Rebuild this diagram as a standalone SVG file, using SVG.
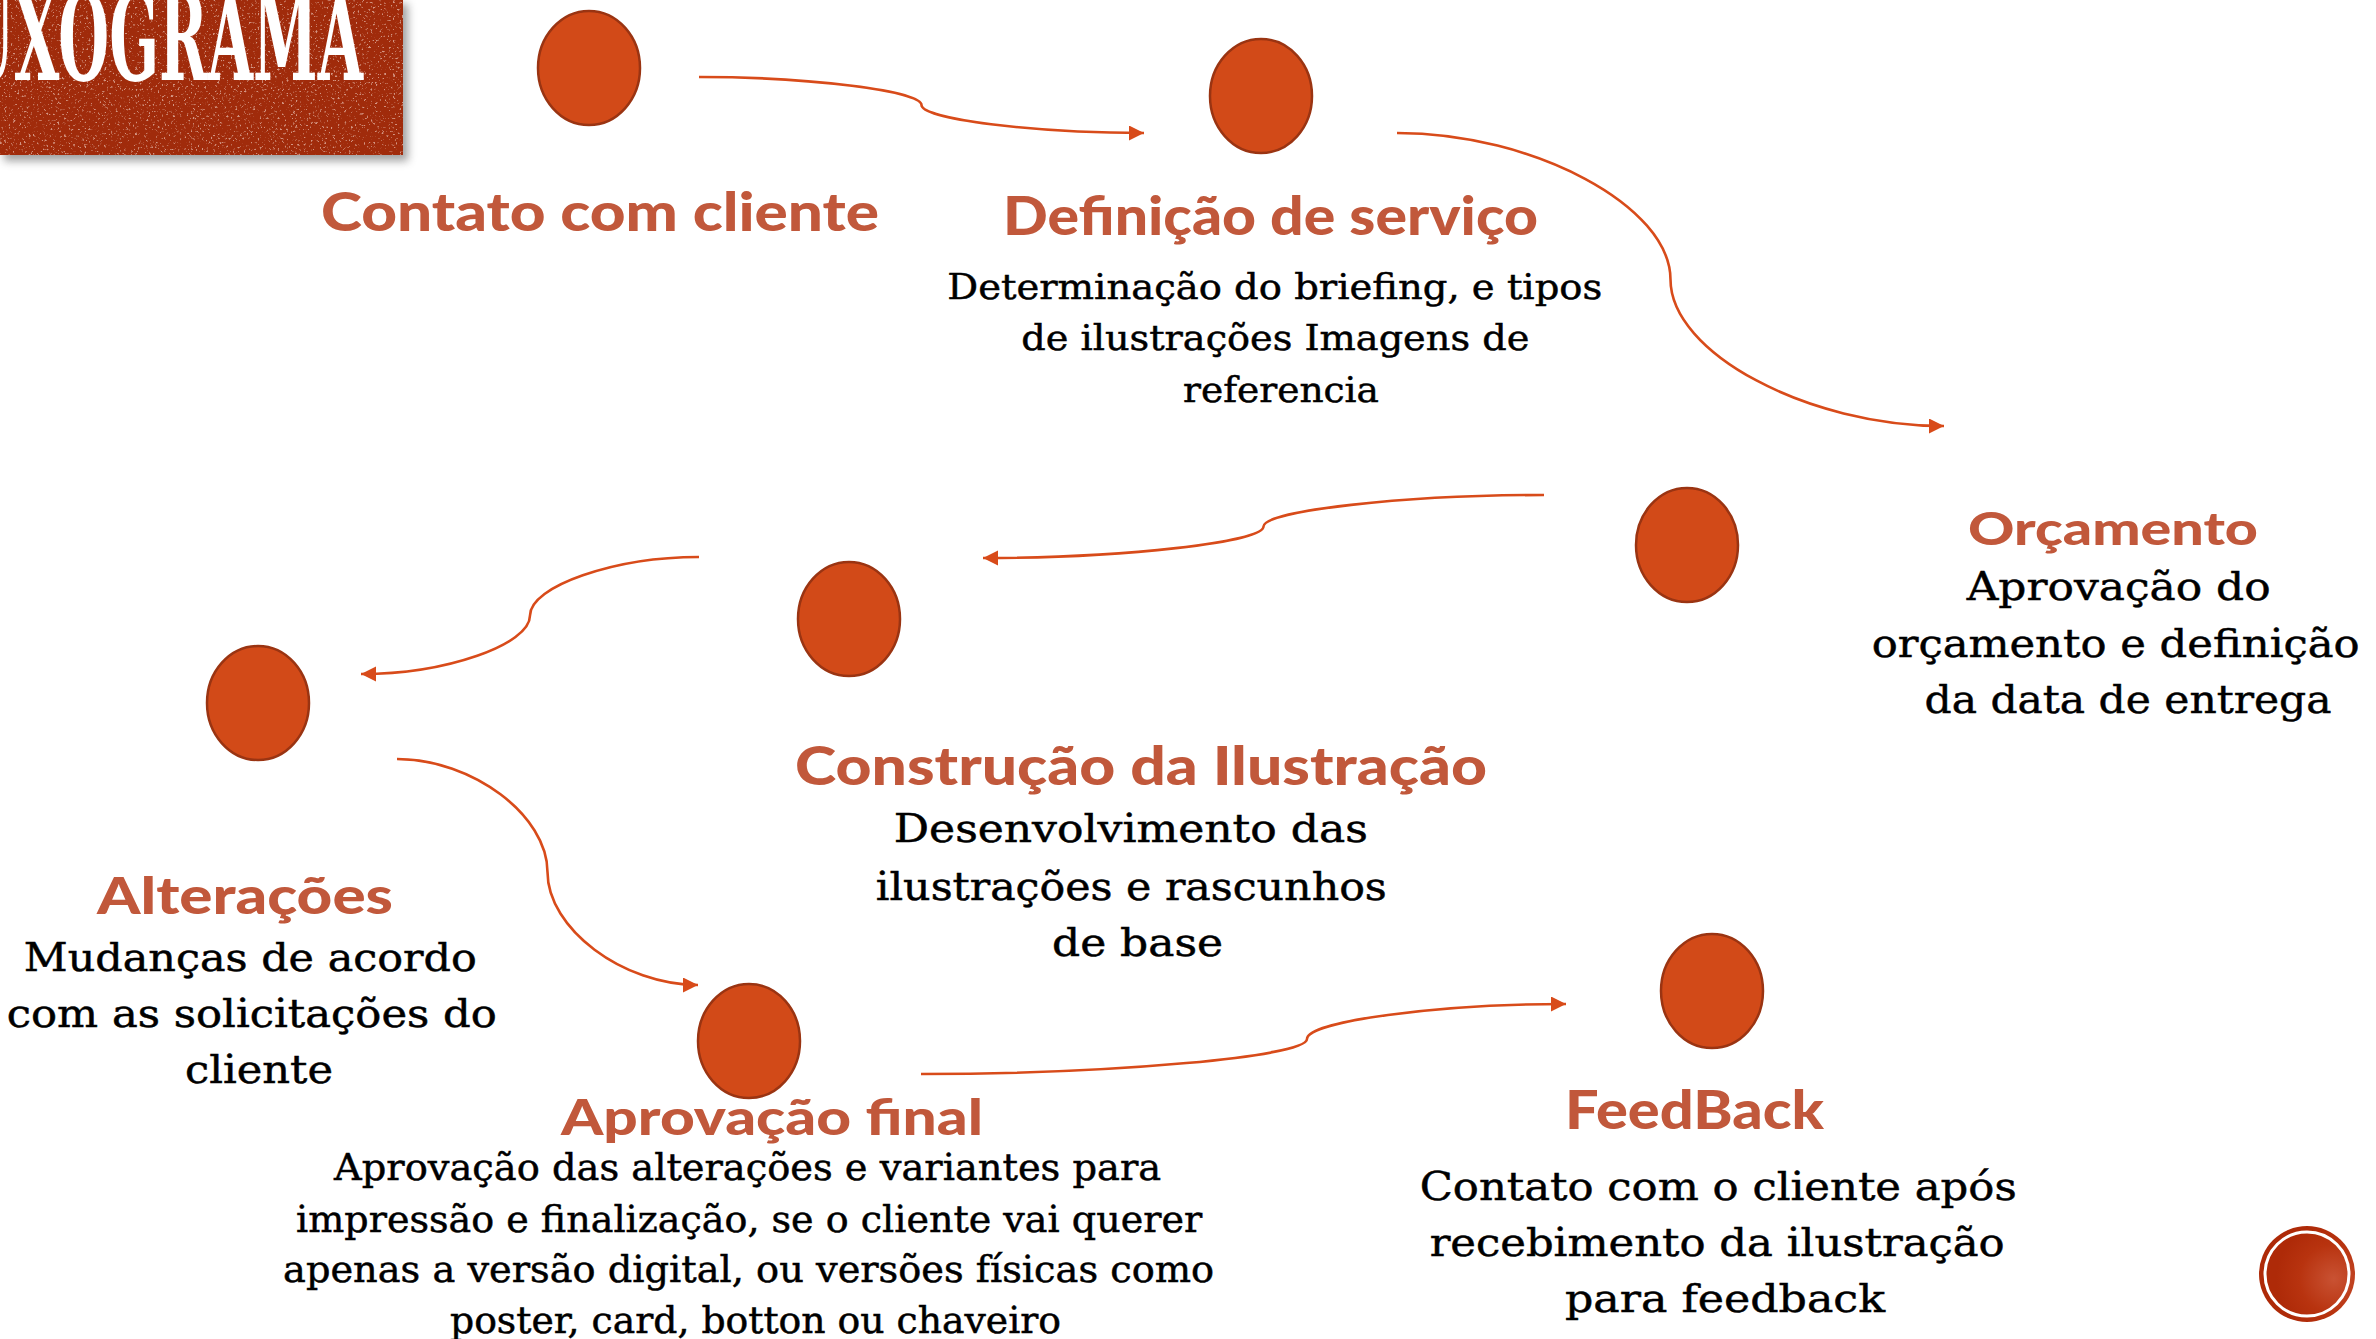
<svg xmlns="http://www.w3.org/2000/svg" width="2376" height="1339" viewBox="0 0 2376 1339">
<defs>
<style>
.dot{fill:#D24A18;stroke:#9A3412;stroke-width:2.5}
.head{font-family:Lato,"Open Sans","Noto Sans",sans-serif;font-weight:900;fill:#C1583B;text-anchor:middle}
.body{font-family:"DejaVu Serif","Liberation Serif",serif;fill:#000;stroke:#000;stroke-width:0.5;text-anchor:middle}
.conn{fill:none;stroke:#D84B1A;stroke-width:2.6}
</style>
<marker id="arrow" markerUnits="userSpaceOnUse" markerWidth="16" markerHeight="16" refX="15" refY="7.5" orient="auto">
<path d="M0,0 L15,7.5 L0,15 z" fill="#D84B1A"/>
</marker>
<filter id="shadow" x="-10%" y="-20%" width="130%" height="150%">
<feGaussianBlur stdDeviation="4"/>
</filter>
<filter id="speckle" x="0" y="0" width="1" height="1">
<feTurbulence type="fractalNoise" baseFrequency="0.45" numOctaves="2" seed="7" result="n"/>
<feColorMatrix in="n" type="matrix" values="0 0 0 0 1  0 0 0 0 0.86  0 0 0 0 0.8  7 0 0 0 -4.3"/>
</filter>
<radialGradient id="badge" cx="0.78" cy="0.55" r="0.6">
<stop offset="0" stop-color="#C95233"/>
<stop offset="0.6" stop-color="#B8330F"/>
<stop offset="1" stop-color="#AE2A08"/>
</radialGradient>
<clipPath id="titleclip"><rect x="0" y="0" width="403" height="155"/></clipPath>
</defs>

<g id="title">
<rect x="4" y="4" width="404" height="157" fill="#555" opacity="0.55" filter="url(#shadow)"/>
<rect x="0" y="0" width="403" height="155" fill="#A02B0B"/>
<rect x="0" y="0" width="403" height="155" filter="url(#speckle)" opacity="0.55"/>
<g clip-path="url(#titleclip)">
<text x="-37" y="80" font-family="'DejaVu Serif','Liberation Serif',serif" font-weight="700" font-size="122" fill="#FFFFFF" textLength="400" lengthAdjust="spacingAndGlyphs">UXOGRAMA</text>
</g>
</g>

<g id="connectors">
<path class="conn" marker-end="url(#arrow)" d="M699,77 C810,77 921.5,91 921.5,105 C921.5,119 1033,133 1144,133"/>
<path class="conn" marker-end="url(#arrow)" d="M1397,133 C1533.75,133 1670.5,206.25 1670.5,279.5 C1670.5,352.75 1807.25,426 1944,426"/>
<path class="conn" marker-end="url(#arrow)" d="M1544,495 C1403.75,495 1263.5,510.75 1263.5,526.5 C1263.5,542.25 1123.25,558 983,558"/>
<path class="conn" marker-end="url(#arrow)" d="M699,557 C614.5,557 530,586.25 530,615.5 C530,644.75 445.5,674 361,674"/>
<path class="conn" marker-end="url(#arrow)" d="M397,759 C472.25,759 547.5,815.5 547.5,872 C547.5,928.5 622.75,985 698,985"/>
<path class="conn" marker-end="url(#arrow)" d="M921,1074 C1114,1074 1307,1056.5 1307,1039 C1307,1021.5 1436.5,1004 1566,1004"/>
</g>

<g id="node-contato">
<ellipse class="dot" cx="589" cy="68" rx="51" ry="57"/>
<text class="head" x="600" y="231" font-size="54" textLength="558" lengthAdjust="spacingAndGlyphs">Contato com cliente</text>
</g>

<g id="node-definicao">
<ellipse class="dot" cx="1261" cy="96" rx="51" ry="57"/>
<text class="head" x="1270.5" y="235" font-size="54" textLength="535" lengthAdjust="spacingAndGlyphs">Definição de serviço</text>
<text class="body" font-size="36">
<tspan x="1280.5" y="299" textLength="655" lengthAdjust="spacingAndGlyphs">Determinação do briefing, e tipos</tspan>
<tspan x="1281" y="350" textLength="508" lengthAdjust="spacingAndGlyphs">de ilustrações Imagens de</tspan>
<tspan x="1281" y="402" textLength="196" lengthAdjust="spacingAndGlyphs">referencia</tspan>
</text>
</g>

<g id="node-orcamento">
<ellipse class="dot" cx="1687" cy="545" rx="51" ry="57"/>
<text class="head" x="2113" y="545" font-size="46" textLength="290" lengthAdjust="spacingAndGlyphs">Orçamento</text>
<text class="body" font-size="40">
<tspan x="2125" y="600" textLength="304" lengthAdjust="spacingAndGlyphs">Aprovação do</tspan>
<tspan x="2122" y="657" textLength="488" lengthAdjust="spacingAndGlyphs">orçamento e definição</tspan>
<tspan x="2128" y="713" textLength="407" lengthAdjust="spacingAndGlyphs">da data de entrega</tspan>
</text>
</g>

<g id="node-construcao">
<ellipse class="dot" cx="849" cy="619" rx="51" ry="57"/>
<text class="head" x="1141" y="785" font-size="54" textLength="692" lengthAdjust="spacingAndGlyphs">Construção da Ilustração</text>
<text class="body" font-size="39">
<tspan x="1137" y="842" textLength="474" lengthAdjust="spacingAndGlyphs">Desenvolvimento das</tspan>
<tspan x="1137.5" y="900" textLength="511" lengthAdjust="spacingAndGlyphs">ilustrações e rascunhos</tspan>
<tspan x="1137.5" y="956" textLength="171" lengthAdjust="spacingAndGlyphs">de base</tspan>
</text>
</g>

<g id="node-alteracoes">
<ellipse class="dot" cx="258" cy="703" rx="51" ry="57"/>
<text class="head" x="245" y="914" font-size="52" textLength="296" lengthAdjust="spacingAndGlyphs">Alterações</text>
<text class="body" font-size="39">
<tspan x="256.5" y="971" textLength="453" lengthAdjust="spacingAndGlyphs">Mudanças de acordo</tspan>
<tspan x="258" y="1027" textLength="490" lengthAdjust="spacingAndGlyphs">com as solicitações do</tspan>
<tspan x="259" y="1083" textLength="148" lengthAdjust="spacingAndGlyphs">cliente</tspan>
</text>
</g>

<g id="node-aprovacao">
<ellipse class="dot" cx="749" cy="1041" rx="51" ry="57"/>
<text class="head" x="772" y="1135" font-size="50" textLength="422" lengthAdjust="spacingAndGlyphs">Aprovação final</text>
<text class="body" font-size="37">
<tspan x="753.5" y="1180" textLength="827" lengthAdjust="spacingAndGlyphs">Aprovação das alterações e variantes para</tspan>
<tspan x="755" y="1232" textLength="906" lengthAdjust="spacingAndGlyphs">impressão e finalização, se o cliente vai querer</tspan>
<tspan x="754.5" y="1282" textLength="931" lengthAdjust="spacingAndGlyphs">apenas a versão digital, ou versões físicas como</tspan>
<tspan x="755.5" y="1333" textLength="611" lengthAdjust="spacingAndGlyphs">poster, card, botton ou chaveiro</tspan>
</text>
</g>

<g id="node-feedback">
<ellipse class="dot" cx="1712" cy="991" rx="51" ry="57"/>
<text class="head" x="1694.5" y="1129" font-size="54" textLength="259" lengthAdjust="spacingAndGlyphs">FeedBack</text>
<text class="body" font-size="40">
<tspan x="1724.5" y="1200" textLength="597" lengthAdjust="spacingAndGlyphs">Contato com o cliente após</tspan>
<tspan x="1723.5" y="1256" textLength="575" lengthAdjust="spacingAndGlyphs">recebimento da ilustração</tspan>
<tspan x="1725" y="1312" textLength="320" lengthAdjust="spacingAndGlyphs">para feedback</tspan>
</text>
</g>

<g id="badge-circle">
<circle cx="2307" cy="1274" r="48" fill="url(#badge)"/>
<circle cx="2307" cy="1274" r="42" fill="none" stroke="#FFFFFF" stroke-width="3"/>
</g>
</svg>
